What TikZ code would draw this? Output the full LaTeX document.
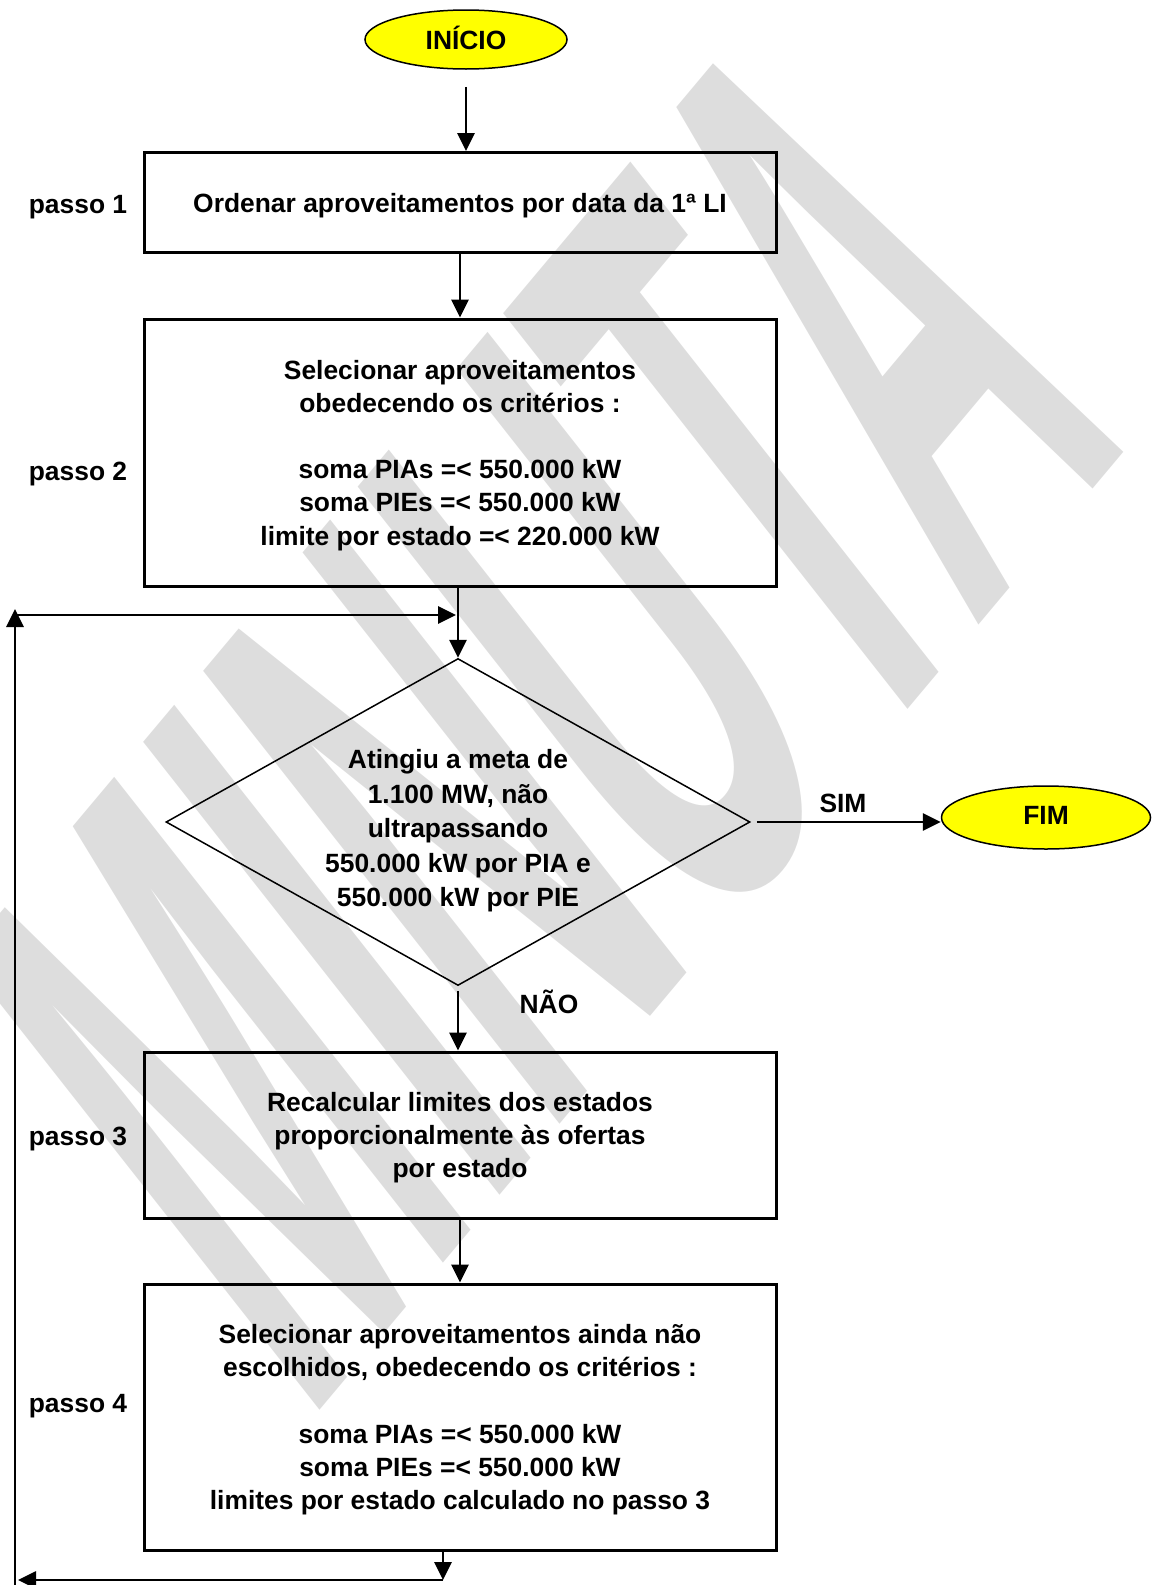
\documentclass[tikz,border=0pt]{standalone}
\usepackage{fontspec}
\setmainfont{Liberation Sans}
\usetikzlibrary{shapes.geometric,arrows.meta}
\usetikzlibrary{decorations.markings}
\pgfdeclarelayer{background}
\pgfsetlayers{background,main}
\definecolor{amarelo}{RGB}{255,255,0}
\definecolor{marcadagua}{RGB}{221,221,221}
\newcommand{\texto}{\bfseries\fontsize{13.2}{16.6}\selectfont}
\tikzstyle{caixa} = [draw, line width=1.5pt, minimum width=316pt, inner sep=0pt,
  align=center, text depth=-1pt, font=\texto]
\tikzstyle{terminal} = [ellipse, draw, line width=0.75pt, fill=amarelo,
  inner sep=0pt, text depth=2pt, font=\texto]
\tikzstyle{decisao} = [diamond, draw, line width=0.75pt, aspect=1.78, inner sep=0pt,
  minimum width=292pt, minimum height=163.5pt, align=center, text depth=-6.2pt,
  font=\bfseries\fontsize{13.2}{17.25}\selectfont]
\tikzstyle{rotulo} = [inner sep=0pt, font=\texto]
\tikzstyle{marca} = [inner sep=0pt, text=marcadagua, transform shape,
  font=\bfseries\fontsize{410}{410}\selectfont]
\tikzset{
    big arrow/.style={
        decoration={markings,mark=at position 1 with
          {\arrow{Triangle[width=8.5pt,length=9pt]}}},
        postaction={decorate},
        shorten >=1.5pt}}
\tikzstyle{line} = [draw, line width=1.4pt, big arrow]
\newcommand{\caixa}[3]{node (p#1) [caixa, minimum height=#2] {#3}}
\newcommand{\terminal}[4]{node (p#1) [terminal, minimum width=#2, minimum height=#3] {#4}}
\newcommand{\passo}[2]{node (l#1) [rotulo] {#2}}

\begin{document}
\begin{tikzpicture}[x=0.5pt,y=-0.5pt]
\useasboundingbox (0,0) rectangle (1152,1585);
% Watermark behind everything
\begin{pgfonlayer}{background}
  \node (wm) [marca, anchor=base east, rotate=50, xslant=0.209, xscale=0.41]
    at (1130,445) {MINUTA};
\end{pgfonlayer}

% Draw diagram elements
\path (466,39.5)    \terminal{0}{101pt}{29.5pt}{INÍCIO};
\path (460,202.5)   \caixa{1}{50pt}{Ordenar aproveitamentos por data da 1ª LI};
\path (460,452.5)   \caixa{2}{133.5pt}{Selecionar aproveitamentos\\
  obedecendo os critérios :\\[16.6pt]
  soma PIAs =< 550.000 kW\\ soma PIEs =< 550.000 kW\\
  limite por estado =< 220.000 kW};
\path (458,822)     node (p3) [decisao] {\rule{0pt}{15.6pt}Atingiu a meta de\\
  1.100 MW, não\\ ultrapassando\\ 550.000 kW por PIA e\\ 550.000 kW por PIE};
\path (460,1135)    \caixa{4}{83pt}{Recalcular limites dos estados\\
  proporcionalmente às ofertas\\ por estado};
\path (460,1417)    \caixa{5}{133pt}{Selecionar aproveitamentos ainda não\\
  escolhidos, obedecendo os critérios :\\[16.6pt]
  soma PIAs =< 550.000 kW\\ soma PIEs =< 550.000 kW\\
  limites por estado calculado no passo 3};
\path (1046,817.5)  \terminal{6}{104.5pt}{31.5pt}{FIM};

\path (78,207)  \passo{1}{passo 1};
\path (78,474)  \passo{2}{passo 2};
\path (78,1139) \passo{3}{passo 3};
\path (78,1406) \passo{4}{passo 4};
\path (843,803) \passo{5}{SIM};
\path (549,1002) \passo{6}{NÃO};

% Loop corners
\coordinate (r1) at (443,1580);
\coordinate (r2) at (18,1580);
\coordinate (r3) at (15,1585);
\coordinate (r4) at (15,609);
\coordinate (r5) at (15,615);
\coordinate (r6) at (456,615);

% Draw arrows between elements
\path [line] (p0.south) +(0,17) -- (p0.south |- p1.north);
\path [line] (p1.south) -- (p2.north);
\path [line] (p2.south -| p3.north) -- (p3.north);
\path [line] (p3.south) +(0,5) -- (p3.south |- p4.north);
\path [line] (p4.south) -- (p5.north);
\path [line] (p3.east) +(6,0) -- (p3.east -| p6.west);
\path [line] (p5.south -| r1) -- (r1);
\path [line] (r1) -- (r2);
\path [line] (r3) -- (r4);
\path [line] (r5) -- (r6);
\end{tikzpicture}
\end{document}
